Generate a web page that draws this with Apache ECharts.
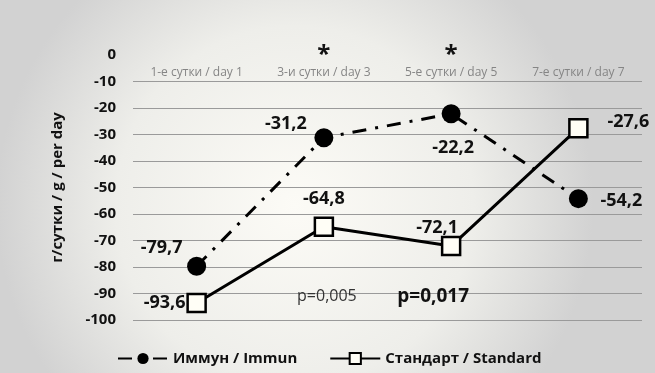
<!DOCTYPE html>
<html><head><meta charset="utf-8">
<script src="https://cdn.jsdelivr.net/npm/echarts@6/dist/echarts.min.js"></script>
<style>html,body{margin:0;padding:0;background:#fff}#c{width:655px;height:373px}</style>
</head><body><div id="c"></div>
<script>
const categories = ['1-е сутки / day 1', '3-и сутки / day 3', '5-е сутки / day 5', '7-е сутки / day 7'];
const immun = [-79.7, -31.2, -22.2, -54.2];
const standard = [-93.6, -64.8, -72.1, -27.6];
const seriesNames = ['Иммун / Immun', 'Стандарт / Standard'];
const yAxisName = 'г/сутки / g / per day';
const stars = [{cat: 1, text: '*'}, {cat: 2, text: '*'}];
const pValues = [{cat: 1, text: 'p=0,005', bold: false}, {cat: 2, text: 'p=0,017', bold: true}];

const immunLabelOff = [[-35, -18], [-38, -14], [2, 34], [43, 2]];
const stdLabelOff = [[-32, 0], [0, -28], [-14, -18], [50, -6]];
const fmt = v => String(v).replace('.', ',');
const font = "'Open Sans', 'Liberation Sans', sans-serif";

const chart = echarts.init(document.getElementById('c'));
const lbl = {fontFamily: font, fontWeight: 'bold', fontSize: 18, color: '#111'};
chart.setOption({
  backgroundColor: {
    type: 'radial', x: 0.45, y: 0.55, r: 0.8,
    colorStops: [{offset: 0, color: '#fcfbf6'}, {offset: 0.6, color: '#eeeeea'}, {offset: 1, color: '#d2d2d2'}]
  },
  animation: false,
  grid: {left: 133, right: 13, top: 55, bottom: 53},
  legend: {
    left: 112, top: 346, itemWidth: 50, itemHeight: 14, itemGap: 32,
    textStyle: {fontFamily: font, fontWeight: 'bold', fontSize: 15, color: '#111'},
    data: seriesNames
  },
  xAxis: {
    type: 'category', data: categories, position: 'top',
    axisLine: {show: false}, axisTick: {show: false},
    axisLabel: {inside: true, margin: 12, fontFamily: font, fontSize: 12, color: '#858585'}
  },
  yAxis: {
    type: 'value', min: -100, max: 0, interval: 10,
    name: yAxisName, nameLocation: 'middle', nameGap: 68, nameRotate: 90,
    nameTextStyle: {fontFamily: font, fontWeight: 'bold', fontSize: 15, color: '#111'},
    axisLine: {show: false}, axisTick: {show: false},
    axisLabel: {margin: 17, fontFamily: font, fontWeight: 'bold', fontSize: 15, color: '#111'},
    splitLine: {show: true, showMaxLine: false, lineStyle: {color: '#9a9a9a', width: 1.2}}
  },
  series: [
    {
      name: seriesNames[0], type: 'line', data: immun.map((v, i) => ({
        value: v, label: {offset: immunLabelOff[i]}
      })),
      symbol: 'circle', symbolSize: 19,
      itemStyle: {color: '#000'},
      lineStyle: {color: '#000', width: 3, type: [14, 9, 3, 9]},
      label: Object.assign({show: true, position: 'inside', formatter: p => fmt(p.value)}, lbl),
      z: 3
    },
    {
      name: seriesNames[1], type: 'line', data: standard.map((v, i) => ({
        value: v, label: {offset: stdLabelOff[i]}
      })),
      symbol: 'rect', symbolSize: 18,
      itemStyle: {color: '#fffef6', borderColor: '#000', borderWidth: 2.5},
      lineStyle: {color: '#000', width: 3},
      label: Object.assign({show: true, position: 'inside', formatter: p => fmt(p.value)}, lbl),
      z: 4
    }
  ]
});

const g = [];
stars.forEach(s => {
  const pt = chart.convertToPixel({seriesIndex: 0}, [s.cat, 0]);
  g.push({type: 'text', x: pt[0], y: 55, style: {text: s.text, fontFamily: font, fontWeight: 'bold', fontSize: 24, fill: '#111', align: 'center', verticalAlign: 'middle'}});
});
pValues.forEach(p => {
  const pt = chart.convertToPixel({seriesIndex: 0}, [p.cat, -90]);
  g.push({type: 'text', x: pt[0] + (p.bold ? -18 : 3), y: pt[1] + 3, style: {text: p.text, fontFamily: font, fontWeight: p.bold ? 'bold' : 'normal', fontSize: p.bold ? 19 : 16, fill: p.bold ? '#111' : '#333', align: 'center', verticalAlign: 'middle'}});
});
chart.setOption({graphic: g});
</script></body></html>
